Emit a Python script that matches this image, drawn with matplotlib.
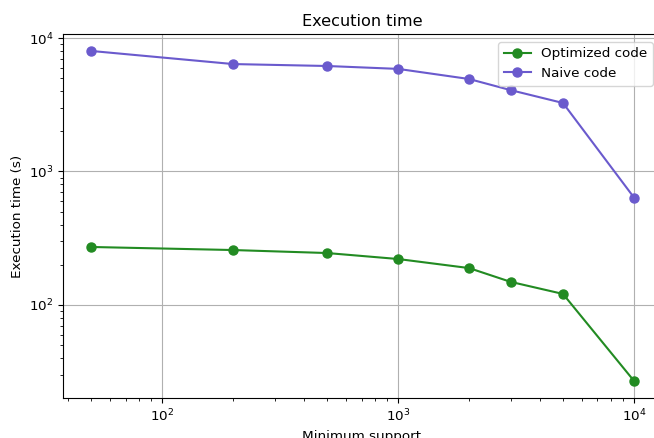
import matplotlib
matplotlib.use("Agg")
import matplotlib.pyplot as plt

plt.rcParams['font.size'] = 9.7

min_support = [50, 200, 500, 1000, 2000, 3000, 5000, 10000]
optimized = [272, 258, 245, 221, 189, 149, 121, 27]
naive = [8000, 6380, 6170, 5870, 4930, 4070, 3260, 638]

fig = plt.figure(figsize=(6.54, 4.38), dpi=100)
ax = fig.add_axes([63/654, 1-398/438, (661-63)/654, (398-34)/438])
ax.plot(min_support, optimized, '-o', color='forestgreen', label='Optimized code', markersize=6.5)
ax.plot(min_support, naive, '-o', color='slateblue', label='Naive code', markersize=6.5)
ax.set_xscale('log')
ax.set_yscale('log')
ax.set_xlim(38, 10**(4 + 27/236))
ax.set_ylim(20.1, 10**4.03)
ax.grid(True, which='major', color='#b0b0b0')
ax.set_title('Execution time')
ax.set_xlabel('Minimum support')
ax.set_ylabel('Execution time (s)', labelpad=3)
ax.legend(loc='upper right', borderaxespad=0.6)
fig.savefig('out.png', dpi=100)
